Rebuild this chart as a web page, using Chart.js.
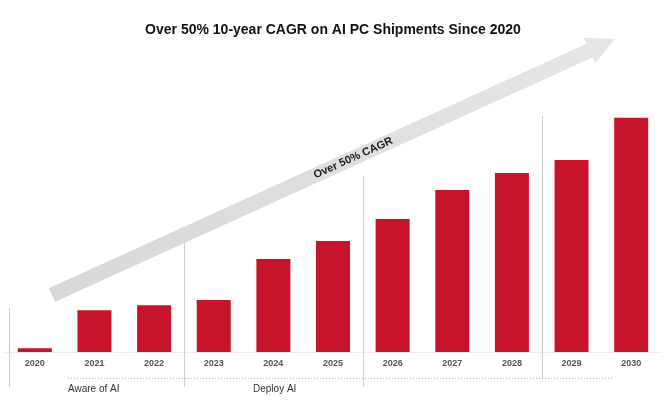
<!DOCTYPE html>
<html>
<head>
<meta charset="utf-8">
<script src="https://cdn.jsdelivr.net/npm/chart.js@4"></script>
<style>
html,body{margin:0;padding:0;background:#fff;}
#wrap{width:670px;height:405px;position:relative;}
</style>
</head>
<body>
<div id="wrap"><canvas id="c"></canvas></div>
<script>
// ---- data (relative AI PC shipment levels) ----
const years = ['2020','2021','2022','2023','2024','2025','2026','2027','2028','2029','2030'];
const shipments = [4, 42, 47, 52, 93, 111, 133, 162, 179, 192, 234];
const phaseLabels = ['Aware of AI', 'Deploy AI'];
const titleText = 'Over 50% 10-year CAGR on AI PC Shipments Since 2020';
const arrowLabel = 'Over 50% CAGR';

const FONT = '"Liberation Sans", Arial, sans-serif';

const decorPlugin = {
  id: 'decor',
  beforeDatasetsDraw(chart) {
    const ctx = chart.ctx;
    const xs = chart.scales.x;
    const area = chart.chartArea;
    ctx.save();
    // vertical phase dividers
    ctx.strokeStyle = '#cfcfcf';
    ctx.lineWidth = 1;
    const mid = i => Math.round((xs.getPixelForValue(i) + xs.getPixelForValue(i + 1)) / 2) + 0.5;
    const dividers = [
      {x: area.left + 4.5, top: 308, bottom: 387},
      {x: mid(2), top: 243, bottom: 387},
      {x: mid(5), top: 176, bottom: 387},
      {x: mid(8), top: 116, bottom: 378}
    ];
    dividers.forEach(d => {
      ctx.beginPath();
      ctx.moveTo(d.x, d.top);
      ctx.lineTo(d.x, d.bottom);
      ctx.stroke();
    });
    // dotted phase line
    ctx.strokeStyle = '#b0b0b0';
    ctx.setLineDash([1, 2]);
    ctx.beginPath();
    ctx.moveTo(68, 378.5);
    ctx.lineTo(612, 378.5);
    ctx.stroke();
    ctx.setLineDash([]);
    // phase labels
    ctx.fillStyle = '#333';
    ctx.font = '10px ' + FONT;
    ctx.textBaseline = 'middle';
    ctx.textAlign = 'left';
    ctx.fillText(phaseLabels[0], 68, 389);
    ctx.fillText(phaseLabels[1], 253, 389);

    // growth arrow
    const tail = {x: 52, y: 295};
    const tip = {x: 615, y: 39};
    const dx = tip.x - tail.x, dy = tip.y - tail.y;
    const len = Math.hypot(dx, dy);
    const ux = dx / len, uy = dy / len;
    const nx = -uy, ny = ux;
    const hw = 7.5, headLen = 28, headHw = 14;
    const bx = tip.x - ux * headLen, by = tip.y - uy * headLen;
    const grad = ctx.createLinearGradient(tail.x, tail.y, tip.x, tip.y);
    grad.addColorStop(0, '#d8d8d8');
    grad.addColorStop(1, '#e6e6e6');
    ctx.fillStyle = grad;
    ctx.beginPath();
    ctx.moveTo(tail.x + nx * hw, tail.y + ny * hw);
    ctx.lineTo(bx + nx * hw, by + ny * hw);
    ctx.lineTo(bx + nx * headHw, by + ny * headHw);
    ctx.lineTo(tip.x, tip.y);
    ctx.lineTo(bx - nx * headHw, by - ny * headHw);
    ctx.lineTo(bx - nx * hw, by - ny * hw);
    ctx.lineTo(tail.x - nx * hw, tail.y - ny * hw);
    ctx.closePath();
    ctx.fill();
    // arrow label
    const t = 0.535;
    const cx = tail.x + dx * t, cy = tail.y + dy * t;
    ctx.translate(cx, cy);
    ctx.rotate(Math.atan2(dy, dx));
    ctx.fillStyle = '#1a1a1a';
    ctx.font = 'bold 11px ' + FONT;
    ctx.textAlign = 'center';
    ctx.textBaseline = 'middle';
    ctx.fillText(arrowLabel, 0, 0);
    ctx.restore();
  }
};

new Chart(document.getElementById('c'), {
  type: 'bar',
  data: {
    labels: years,
    datasets: [{
      data: shipments,
      backgroundColor: '#c8142a',
      borderWidth: 0,
      barPercentage: 0.57,
      categoryPercentage: 1
    }]
  },
  options: {
    responsive: true,
    maintainAspectRatio: false,
    animation: false,
    devicePixelRatio: 1,
    layout: {padding: {top: 0, left: 5, right: 9, bottom: 30}},
    plugins: {
      legend: {display: false},
      tooltip: {enabled: false},
      title: {
        display: true,
        text: titleText,
        color: '#111',
        font: {family: FONT, size: 14, weight: 'bold'},
        padding: {top: 22, bottom: 41}
      }
    },
    scales: {
      x: {
        grid: {display: false, drawTicks: false},
        border: {display: true, color: '#eeeeee'},
        ticks: {color: '#555', font: {family: FONT, size: 9, weight: 'bold'}, padding: 6}
      },
      y: {display: false, min: 0, max: 272}
    }
  },
  plugins: [decorPlugin]
});
</script>
</body>
</html>
